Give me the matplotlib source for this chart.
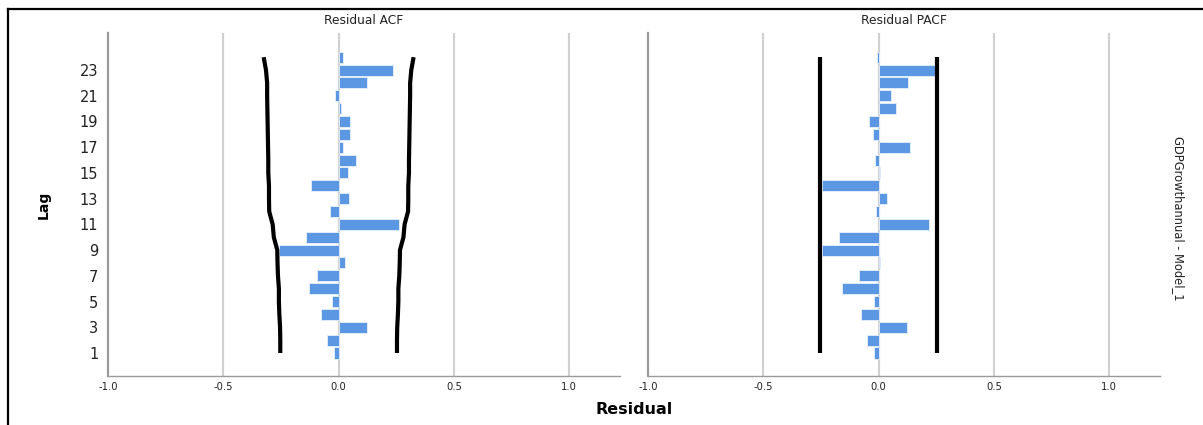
"""
Residual ACF / PACF plot (SPSS-style) for GDPGrowthannual - Model_1
"""
# %% IMPORTS
import matplotlib.pyplot as plt
from matplotlib.lines import Line2D

# %% DATA
lags = list(range(1, 25))
acf_vals = [-0.019, -0.051, 0.124, -0.077, -0.029, -0.130, -0.094, 0.026,
            -0.258, -0.142, 0.263, -0.038, 0.043, -0.121, 0.039, 0.077,
            0.020, 0.048, 0.049, 0.010, -0.015, 0.121, 0.237, 0.020]
acf_ucl = [0.253, 0.253, 0.254, 0.257, 0.259, 0.259, 0.263, 0.265,
           0.266, 0.281, 0.286, 0.301, 0.302, 0.302, 0.305, 0.305,
           0.306, 0.307, 0.308, 0.309, 0.310, 0.310, 0.315, 0.325]
pacf_vals = [-0.019, -0.051, 0.123, -0.077, -0.019, -0.158, -0.084, 0.007,
             -0.246, -0.171, 0.217, -0.012, 0.035, -0.246, 0.006, -0.016,
             0.136, -0.025, -0.043, 0.077, 0.055, 0.126, 0.246, -0.006]
pacf_ucl = [0.255] * len(lags)

ytick_lags = list(range(1, 24, 2))
xticks = [-1.0, -0.5, 0.0, 0.5, 1.0]
titles = ["Residual ACF", "Residual PACF"]
model_label = "GDPGrowthannual - Model_1"

# %% STYLE
bar_color = "#5b97e3"
grid_color = "#d0d0d0"
spine_color = "#9a9a9a"

W, H = 1203, 425
fig = plt.figure(figsize=(W / 100, H / 100), dpi=100)

# panel positions in pixels (left, right, top, bottom)
panels = [(108, 620), (648, 1160)]
top_px, bottom_px = 33, 376

for (x0, x1), title, vals, ucl in zip(panels, titles,
                                      [acf_vals, pacf_vals], [acf_ucl, pacf_ucl]):
    ax = fig.add_axes([x0 / W, (H - bottom_px) / H, (x1 - x0) / W,
                       (bottom_px - top_px) / H])
    ax.set_xlim(-1.0, 1.22)
    ax.set_ylim(-0.79, 25.88)

    # vertical gridlines
    for xv in xticks[1:]:
        ax.axvline(xv, color=grid_color, lw=1.5, zorder=0)

    ax.barh(lags, vals, height=0.86, color=bar_color, edgecolor="#e8f0fb",
            linewidth=0.6, zorder=2)
    ax.plot(ucl, lags, color="black", lw=3, solid_capstyle="butt",
            solid_joinstyle="round", zorder=3)
    ax.plot([-u for u in ucl], lags, color="black", lw=3,
            solid_capstyle="butt", solid_joinstyle="round", zorder=3)

    ax.set_xticks(xticks)
    ax.set_xticklabels([f"{t:.1f}" for t in xticks], fontsize=7.2,
                       color="#222222")
    ax.set_yticks(ytick_lags)
    if x0 == panels[0][0]:
        ax.set_yticklabels([str(v) for v in ytick_lags], fontsize=10.5,
                           color="#222222")
        ax.set_ylabel("Lag", fontsize=10, fontweight="bold", labelpad=21)
    else:
        ax.set_yticklabels([])
    ax.tick_params(length=0, pad=4)
    ax.tick_params(axis="y", pad=7)

    for side in ["top", "right"]:
        ax.spines[side].set_visible(False)
    ax.spines["left"].set_color(spine_color)
    ax.spines["left"].set_linewidth(1.6)
    ax.spines["bottom"].set_color(spine_color)
    ax.spines["bottom"].set_linewidth(1.0)

    fig.text((x0 + x1) / 2 / W, 1 - 21 / H, title, ha="center", va="center",
             fontsize=8.8, color="#222222")

# shared x label and panel label
fig.text(634 / W, 1 - 409 / H, "Residual", ha="center", va="center",
         fontsize=11.5, fontweight="bold")
fig.text(1178 / W, 1 - 218 / H, model_label, ha="center", va="center",
         rotation=270, fontsize=8.3, color="#222222")

# outer frame (left and top edges)
fig.add_artist(Line2D([7.5 / W, 7.5 / W], [0, 1 - 8.5 / H], color="black",
                      lw=1.6, transform=fig.transFigure))
fig.add_artist(Line2D([7.5 / W, 1], [1 - 8.5 / H, 1 - 8.5 / H],
                      color="black", lw=1.6, transform=fig.transFigure))

fig.savefig("out.png", dpi=100)
